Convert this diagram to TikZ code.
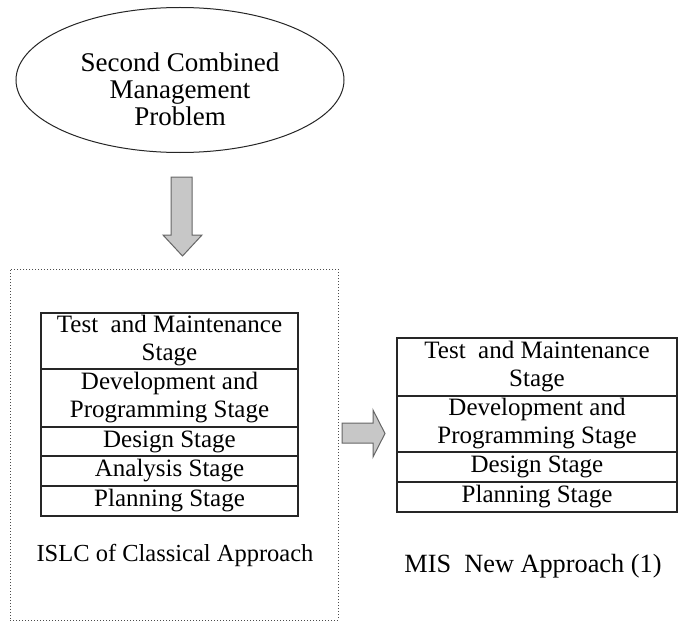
\documentclass[tikz,border=0pt]{standalone}
\usepackage{fontspec}
\setmainfont{Liberation Serif}
\usetikzlibrary{shapes.geometric}
\tikzset{
  cell/.style={draw=black!85, line width=1.1pt, rectangle, inner sep=0pt, align=center,
    font=\fontsize{25}{28}\selectfont},
  lcell/.style={cell, minimum width=257pt},
  rcell/.style={cell, minimum width=280pt},
  blockarrow/.style={draw=black!60, fill=black!22, line width=1pt, line join=miter},
  lbl/.style={font=\fontsize{24.5}{28}\selectfont, inner sep=0pt},
}
\begin{document}
\begin{tikzpicture}[x=1pt,y=-1pt]
\useasboundingbox (0,0) rectangle (685,623);
\fill[white] (0,0) rectangle (685,623);
% problem ellipse
\node[ellipse, draw=black!85, line width=1pt, minimum width=328pt, minimum height=145pt,
  inner sep=0pt] (prob) at (180,80) {};
\node[align=center, font=\fontsize{27}{27}\selectfont, inner sep=0pt] (probtext) at (180,89)
  {Second Combined\\Management\\Problem};
% down block arrow
\draw[blockarrow] (171,177) -- (192,177) -- (192,235) -- (202,235) -- (182.5,256)
  -- (163,235) -- (171,235) -- cycle;
% dotted frame
\node[draw=black!70, dotted, line width=1pt, minimum width=328pt, minimum height=351pt,
  inner sep=0pt] (frame) at (174,444.5) {};
% left stack
\node[lcell, minimum height=56pt] (l1) at (169.5,341) {Test\ \ and Maintenance\\Stage};
\node[lcell, minimum height=58pt] (l2) at (169.5,398) {Development and\\Programming Stage};
\node[lcell, minimum height=29pt] (l3) at (169.5,441.5) {Design Stage};
\node[lcell, minimum height=30pt] (l4) at (169.5,471) {Analysis Stage};
\node[lcell, minimum height=30pt] (l5) at (169.5,501) {Planning Stage};
\node[lbl] (llab) at (175,555) {ISLC of Classical Approach};
% right block arrow
\draw[blockarrow] (342,423) -- (373,423) -- (373,410) -- (385,433.5) -- (373,457)
  -- (373,443) -- (342,443) -- cycle;
% right stack
\node[rcell, minimum height=58pt] (r1) at (537,367) {Test\ \ and Maintenance\\Stage};
\node[rcell, minimum height=56pt] (r2) at (537,424) {Development and\\Programming Stage};
\node[rcell, minimum height=30pt] (r3) at (537,467) {Design Stage};
\node[rcell, minimum height=30pt] (r4) at (537,497) {Planning Stage};
\node[lbl, font=\fontsize{26.3}{28}\selectfont] (rlab) at (533,566) {MIS\ \ New Approach (1)};
\end{tikzpicture}
\end{document}
